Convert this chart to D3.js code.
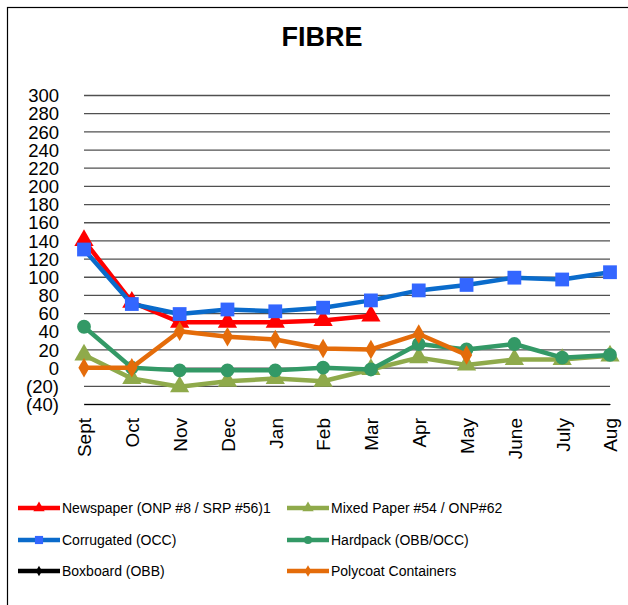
<!DOCTYPE html>
<html><head><meta charset="utf-8">
<script src="https://cdn.jsdelivr.net/npm/d3@7"></script>
<style>body{margin:0;background:#fff;} svg{display:block;}</style>
</head><body>
<script>
const months = ["Sept","Oct","Nov","Dec","Jan","Feb","Mar","Apr","May","June","July","Aug"];
const yTicks = [-40,-20,0,20,40,60,80,100,120,140,160,180,200,220,240,260,280,300];
const newspaper = [140,72,50,50,50,52,57,null,null,null,null,null];
const mixedPaper = [14,-12,-21,-15,-12,-15,-2,11,3,9,9,13];
const corrugated = [130,70,59,64,62,66,74,85,91,99,97,105];
const hardpack = [45,0,-3,-3,-3,0,-2,26,20,26,11,14];
const boxboard = [null,null,null,null,null,null,null,null,null,null,null,null];
const polycoat = [0,0,40,34,31,21,20,37,14,null,null,null];

const series = [
  {name:"Newspaper (ONP #8 / SRP #56)1", values:newspaper, line:"#FF0000", fill:"#FF0000", shape:"triangle", size:160},
  {name:"Mixed Paper #54 / ONP#62", values:mixedPaper, line:"#8FAA4B", fill:"#8FAA4B", shape:"triangle", size:160},
  {name:"Corrugated (OCC)", values:corrugated, line:"#0A6BCB", fill:"#3366FF", shape:"square", size:190},
  {name:"Hardpack (OBB/OCC)", values:hardpack, line:"#339966", fill:"#339966", shape:"circle", size:150},
  {name:"Boxboard (OBB)", values:boxboard, line:"#000000", fill:"#000000", shape:"diamond", size:90},
  {name:"Polycoat Containers", values:polycoat, line:"#E46C0A", fill:"#E46C0A", shape:"diamond", size:110}
];

const W=628,H=605;
const svg=d3.select("body").append("svg").attr("width",W).attr("height",H);
svg.append("rect").attr("x",7.5).attr("y",7.5).attr("width",W+10).attr("height",H+10).attr("fill","#fff").attr("stroke","#000").attr("stroke-width",1.2);

const x=d3.scalePoint().domain(months).range([84,610]);
const y=d3.scaleLinear().domain([-40,300]).range([404,95]);

svg.append("text").attr("x",322).attr("y",46).attr("text-anchor","middle")
  .attr("font-family","Liberation Sans, Arial, sans-serif").attr("font-weight","bold").attr("font-size",27).text("FIBRE");

// gridlines
const gy=d3.axisLeft(y).tickValues(yTicks).tickSize(-(610-84)).tickFormat("");
const gg=svg.append("g").attr("transform","translate(84,0)").call(gy);
gg.select(".domain").remove();
gg.selectAll("line").attr("stroke","#505050").attr("stroke-width",1.3);

// y labels
const ya=d3.axisLeft(y).tickValues(yTicks).tickSize(0).tickPadding(0)
  .tickFormat(d=>d<0?"("+Math.abs(d)+")":String(d));
const yg=svg.append("g").attr("transform","translate(59,0)").call(ya);
yg.select(".domain").remove();
yg.selectAll("text").attr("font-family","Liberation Sans, Arial, sans-serif").attr("font-size",18.5).attr("fill","#000").attr("dy","0.36em");

// x labels
const xa=d3.axisBottom(x).tickSize(0).tickPadding(0);
const xg=svg.append("g").attr("transform","translate(0,404)").call(xa);
xg.select(".domain").attr("stroke","#000").attr("stroke-width",1.2);
xg.selectAll("text").attr("font-family","Liberation Sans, Arial, sans-serif").attr("font-size",19).attr("fill","#000")
  .attr("transform","rotate(-90)").attr("text-anchor","end").attr("x",-14).attr("y",0).attr("dy","0.36em");

const shapes={triangle:d3.symbolTriangle,square:d3.symbolSquare,circle:d3.symbolCircle,diamond:d3.symbolDiamond};
const line=d3.line().defined(d=>d.v!=null).x(d=>x(d.m)).y(d=>y(d.v));

series.forEach(s=>{
  const pts=s.values.map((v,i)=>({m:months[i],v}));
  svg.append("path").datum(pts).attr("d",line).attr("fill","none").attr("stroke",s.line).attr("stroke-width",4.5).attr("stroke-linejoin","round");
  svg.append("g").selectAll("path").data(pts.filter(d=>d.v!=null)).join("path")
    .attr("d",d3.symbol().type(shapes[s.shape]).size(s.size))
    .attr("transform",d=>`translate(${x(d.m)},${y(d.v)})`).attr("fill",s.fill);
});

// legend
const legPos=[[18,508],[287,508],[18,540],[287,540],[18,571],[287,571]];
series.forEach((s,i)=>{
  const [lx,ly]=legPos[i];
  const g=svg.append("g").attr("transform",`translate(${lx},${ly})`);
  g.append("line").attr("x1",0).attr("x2",42).attr("y1",0).attr("y2",0).attr("stroke",s.line).attr("stroke-width",4.5);
  g.append("path").attr("d",d3.symbol().type(shapes[s.shape]).size(s.size*0.35)).attr("transform","translate(21,0)").attr("fill",s.fill);
  g.append("text").attr("x",44).attr("y",0).attr("dy","0.36em").attr("font-family","Liberation Sans, Arial, sans-serif").attr("font-size",14).attr("fill","#000").text(s.name);
});
</script>
</body></html>
